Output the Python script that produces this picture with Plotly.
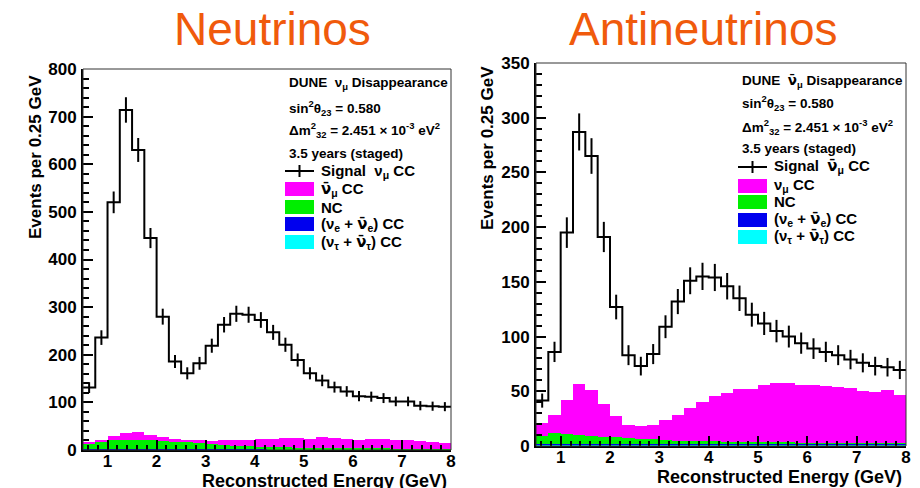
import numpy as np
import plotly.graph_objects as go

# ---------------- data ----------------
bin_edges = [0.5 + 0.25 * i for i in range(31)]
bin_centers = [0.625 + 0.25 * i for i in range(30)]

# Neutrino mode
sig_nu = [131, 236, 520, 714, 630, 445, 280, 186, 161, 182, 219, 263, 286, 284, 273,
          247, 221, 189, 161, 146, 132, 123, 113, 112, 109, 102, 102, 93, 92, 91]
numubar_cc_nu = [2, 5, 8, 15, 15, 11, 8, 6, 5, 6, 7, 11, 13, 14, 16,
                 18, 19, 20, 19, 22, 21, 19, 18, 20, 20, 18, 17, 15, 13, 12]
nc_nu = [12, 15, 19, 19, 20, 19, 17, 15, 14, 13, 10, 8, 7, 6, 5,
         4, 4, 3, 3, 3, 2, 2, 2, 2, 2, 1, 1, 1, 1, 1]
nue_cc_nu = [1] * 30
nutau_cc_nu = [1] * 30

# Antineutrino mode
sig_anu = [41.5, 86, 195, 287, 265, 191, 127, 83, 73, 84, 109, 132, 151, 155, 154,
           146, 135, 120, 112, 105, 100, 94, 89, 86, 83, 79, 76, 73, 72, 69.5]
numu_cc_anu = [12, 16, 31, 47, 42, 30, 19, 12, 12, 13, 18.5, 23, 30, 35.5, 41.5,
               44, 48, 48, 52.5, 54.5, 54.5, 53, 53, 52, 51, 50, 47, 46, 48, 44]
nc_anu = [7, 10, 9, 8, 7, 6, 6, 5, 4, 4, 3.5, 3, 3, 2.5, 2.5,
          2, 2, 2, 1.5, 1.5, 1.5, 1, 1, 1, 1, 1, 1, 1, 1, 1]
nue_cc_anu = [1] * 30
nutau_cc_anu = [1] * 30

x_ticks = [1, 2, 3, 4, 5, 6, 7, 8]

# ---------------- styling ----------------
W, H = 920, 488
FONT = "Liberation Sans, Arial, Helvetica, sans-serif"
MAGENTA, GREEN, BLUE, CYAN = "#ff00ff", "#00ee00", "#0000ee", "#00ffff"
ORANGE = "#f05a0c"
NUBAR = "<span style=\"font-family:'DejaVu Sans'\">ν̄</span>"


def px(x):
    return x / W


def py(y):
    return 1 - y / H


panels = [
    dict(xdom=(83, 451), ydom=(69, 450), ymax=800, ydt=100, yminor=20,
         sig=sig_nu, bkg=[nutau_cc_nu, nue_cc_nu, nc_nu, numubar_cc_nu],
         title="Neutrinos", tx=272, xt_y=481,
         head="DUNE  ν<sub>μ</sub> Disappearance",
         sigl="Signal  ν<sub>μ</sub> CC", bk1=NUBAR + "<sub>μ</sub> CC",
         lx=285, rows=[83, 108, 130, 153, 171, 189, 207, 224, 242], ytitle_x=35, ytitle_top=73),
    dict(xdom=(536, 906), ydom=(63, 446), ymax=350, ydt=50, yminor=10,
         sig=sig_anu, bkg=[nutau_cc_anu, nue_cc_anu, nc_anu, numu_cc_anu],
         title="Antineutrinos", tx=703, xt_y=477,
         head="DUNE  " + NUBAR + "<sub>μ</sub> Disappearance",
         sigl="Signal  " + NUBAR + "<sub>μ</sub> CC", bk1="ν<sub>μ</sub> CC",
         lx=738, rows=[81, 103, 127, 148, 167, 186, 202, 220, 237], ytitle_x=487, ytitle_top=64),
]

fig = go.Figure()
annotations = []
shapes = []

for i, p in enumerate(panels):
    xa = "x" if i == 0 else "x2"
    ya = "y" if i == 0 else "y2"
    colors = [CYAN, BLUE, GREEN, MAGENTA]
    for vals, col in zip(p["bkg"], colors):
        fig.add_trace(go.Bar(x=bin_centers, y=vals, width=0.25, marker_color=col,
                             marker_line_width=0, xaxis=xa, yaxis=ya, showlegend=False))
    # signal step line
    fig.add_trace(go.Scatter(x=bin_edges, y=list(p["sig"]) + [p["sig"][-1]],
                             mode="lines", line=dict(color="black", width=2, shape="hv"),
                             xaxis=xa, yaxis=ya, showlegend=False))
    # statistical error bars
    fig.add_trace(go.Scatter(x=bin_centers, y=p["sig"], mode="markers",
                             marker=dict(size=1, color="black"),
                             error_y=dict(type="data", array=np.sqrt(p["sig"]).tolist(),
                                          width=0, thickness=2, color="black"),
                             xaxis=xa, yaxis=ya, showlegend=False))

    axis_common = dict(showgrid=False, zeroline=False, showline=True, linecolor="black",
                       linewidth=2, ticks="inside", ticklen=10, tickwidth=2, tickcolor="black",
                       automargin=False,
                       tickfont=dict(family=FONT, size=17, color="black", weight="bold"))
    xkey = "xaxis" if i == 0 else "xaxis2"
    ykey = "yaxis" if i == 0 else "yaxis2"
    fig.update_layout(**{
        xkey: dict(domain=[px(p["xdom"][0]), px(p["xdom"][1])], range=[0.5, 8],
                   tickvals=x_ticks, anchor=ya, ticklabelstandoff=-5,
                   minor=dict(ticks="inside", ticklen=5, tickwidth=1.5, tickcolor="black",
                              tickvals=[0.6 + 0.2 * k for k in range(38)]),
                   **axis_common),
        ykey: dict(domain=[py(p["ydom"][1]), py(p["ydom"][0])], range=[0, p["ymax"]],
                   dtick=p["ydt"], tick0=0, anchor=xa, ticklabelstandoff=1,
                   minor=dict(ticks="inside", ticklen=6, tickwidth=1.5, tickcolor="black",
                              dtick=p["yminor"]),
                   **axis_common),
    })
    # frame
    shapes.append(dict(type="rect", xref="paper", yref="paper",
                       x0=px(p["xdom"][0]), x1=px(p["xdom"][1]),
                       y0=py(p["ydom"][1]), y1=py(p["ydom"][0]),
                       line=dict(color="#333333", width=1)))
    # big title
    annotations.append(dict(text=p["title"], x=px(p["tx"]), y=py(29), xref="paper", yref="paper",
                            xanchor="center", yanchor="middle", showarrow=False,
                            font=dict(family=FONT, size=46, color=ORANGE)))
    # axis titles
    annotations.append(dict(text="Events per 0.25 GeV", x=px(p["ytitle_x"]), y=py(p["ytitle_top"]),
                            xref="paper", yref="paper", xanchor="center", yanchor="top",
                            textangle=-90, showarrow=False,
                            font=dict(family=FONT, size=17, color="black", weight="bold")))
    annotations.append(dict(text="Reconstructed Energy (GeV)", x=px(p["xdom"][1] - 2),
                            y=py(p["xt_y"]), xref="paper", yref="paper",
                            xanchor="right", yanchor="middle", showarrow=False,
                            font=dict(family=FONT, size=18, color="black", weight="bold")))
    # legend header lines
    lx = p["lx"]
    rows = p["rows"]
    header_lines = [p["head"], "sin<sup>2</sup>θ<sub>23</sub> = 0.580",
                    "Δm<sup>2</sup><sub>32</sub> = 2.451 × 10<sup>-3</sup> eV<sup>2</sup>",
                    "3.5 years (staged)"]
    for t, r in zip(header_lines, rows[:4]):
        annotations.append(dict(text=t, x=px(lx + 2), y=py(r), xref="paper", yref="paper",
                                xanchor="left", yanchor="middle", showarrow=False,
                                font=dict(family=FONT, size=13.5, color="black", weight="bold")))
    entries = [p["sigl"], p["bk1"], "NC", "(ν<sub>e</sub> + " + NUBAR + "<sub>e</sub>) CC",
               "(ν<sub>τ</sub> + " + NUBAR + "<sub>τ</sub>) CC"]
    for t, r in zip(entries, rows[4:]):
        annotations.append(dict(text=t, x=px(lx + 34), y=py(r), xref="paper", yref="paper",
                                xanchor="left", yanchor="middle", showarrow=False,
                                font=dict(family=FONT, size=15, color="black", weight="bold")))
    # legend symbols
    r = rows[4]
    shapes.append(dict(type="line", xref="paper", yref="paper", x0=px(lx), x1=px(lx + 29),
                       y0=py(r), y1=py(r), line=dict(color="black", width=2)))
    shapes.append(dict(type="line", xref="paper", yref="paper", x0=px(lx + 14.5), x1=px(lx + 14.5),
                       y0=py(r - 6), y1=py(r + 6), line=dict(color="black", width=2)))
    for col, r in zip([MAGENTA, GREEN, BLUE, CYAN], rows[5:]):
        shapes.append(dict(type="rect", xref="paper", yref="paper", x0=px(lx), x1=px(lx + 29),
                           y0=py(r + 7), y1=py(r - 7), fillcolor=col, line=dict(width=0)))

fig.update_layout(width=W, height=H, autosize=False, template="none",
                  margin=dict(l=0, r=0, t=0, b=0, autoexpand=False),
                  paper_bgcolor="white", plot_bgcolor="white",
                  barmode="stack", bargap=0, showlegend=False,
                  annotations=annotations, shapes=shapes)

fig.write_html("out.html")
